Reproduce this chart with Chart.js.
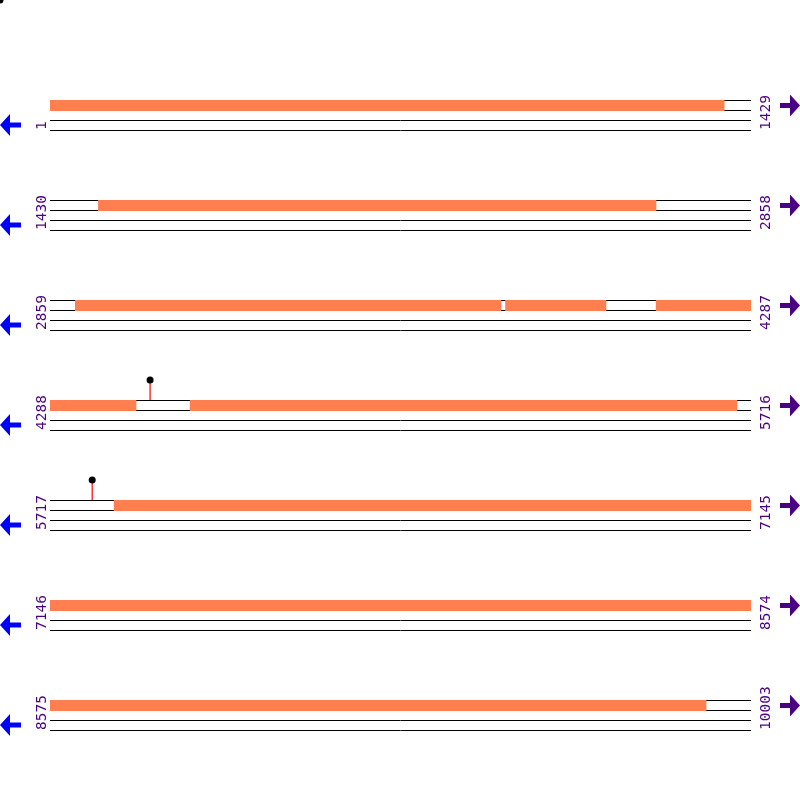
<!DOCTYPE html>
<html>
<head>
<meta charset="utf-8">
<script src="https://cdn.jsdelivr.net/npm/chart.js@4"></script>
<style>
  html, body { margin: 0; padding: 0; background: #fff; }
  #wrap { width: 800px; height: 800px; }
</style>
</head>
<body>
<div id="wrap"><canvas id="map" width="800" height="800"></canvas></div>
<script>
// sequence is wrapped into rows of equal length
const ROW_LEN = 1429;
const rowStarts = [1, 1430, 2859, 4288, 5717, 7146, 8575];
const rowEnds = [1429, 2858, 4287, 5716, 7145, 8574, 10003];

// features (genome coordinates, drawn in orange on the top strand)
const featureStarts = [1, 1528, 2910, 3787, 4094, 4573, 5847];
const featureEnds = [1375, 2665, 3778, 3992, 4463, 5688, 9912];

// single-site markers (lollipops)
const markerPositions = [4492, 5803];

// layout in pixels (y scale is in pixel rows)
const ROW_TOP = 100, ROW_GAP = 100;
const STRAND_OFFSETS = [0.5, 10.5, 20.5, 30.5];
const LEFT_PX = 50, RIGHT_PX = 751;

const ORANGE = '#FF7F50';
const INDIGO = '#4B0082';
const BLUE = '#0000FF';

const pxPerBp = (RIGHT_PX - LEFT_PX) / ROW_LEN;
const xMin = -LEFT_PX / pxPerBp;
const xMax = (800 - LEFT_PX) / pxPerBp;

function rowOf(pos) {
    return rowStarts.findIndex((s, i) => pos >= s && pos <= rowEnds[i]);
}

const datasets = [];

// strand lines
rowStarts.forEach((s, i) => {
    STRAND_OFFSETS.forEach(off => {
        const y = ROW_TOP + i * ROW_GAP + off;
        datasets.push({
            data: [{ x: 0, y: y }, { x: ROW_LEN, y: y }],
            borderColor: '#000', borderWidth: 1, pointRadius: 0, borderCapStyle: 'butt',
            order: 3
        });
    });
});

// features, split across rows
featureStarts.forEach((fs, k) => {
    const fe = featureEnds[k];
    for (let r = rowOf(fs); r <= rowOf(fe); r++) {
        const a = Math.max(fs, rowStarts[r]) - rowStarts[r];
        const b = Math.min(fe, rowEnds[r]) - rowStarts[r] + 1;
        const y = ROW_TOP + r * ROW_GAP + 5.5;
        datasets.push({
            data: [{ x: a, y: y }, { x: b, y: y }],
            borderColor: ORANGE, borderWidth: 11, pointRadius: 0, borderCapStyle: 'butt',
            order: 2
        });
    }
});

// lollipop markers
markerPositions.forEach(pos => {
    const r = rowOf(pos);
    const x = pos - rowStarts[r];
    const yBase = ROW_TOP + r * ROW_GAP;
    datasets.push({
        data: [{ x: x, y: yBase }, { x: x, y: yBase - 20 }],
        borderColor: '#FF0000', borderWidth: 1.2,
        pointRadius: [0, 3.5], pointBackgroundColor: '#000', pointBorderWidth: 0,
        order: 1
    });
});

// stray marker in the top-left corner of the original
datasets.push({
    data: [{ x: xMin, y: 0 }],
    showLine: false, pointRadius: 3.5, pointBackgroundColor: '#000', pointBorderWidth: 0,
    order: 1
});

// row labels and strand arrows
const rowDecor = {
    id: 'rowDecor',
    afterDatasetsDraw(chart) {
        const ctx = chart.ctx;
        const xs = chart.scales.x, ys = chart.scales.y;
        const xL = xs.getPixelForValue(0);
        const xR = xs.getPixelForValue(ROW_LEN);
        ctx.save();
        rowStarts.forEach((s, i) => {
            const top = ys.getPixelForValue(ROW_TOP + i * ROW_GAP);
            // left arrow (reverse strand)
            const cyL = top + 25;
            const x0 = xL - 50;
            ctx.fillStyle = BLUE;
            ctx.beginPath();
            ctx.moveTo(x0, cyL);
            ctx.lineTo(x0 + 10, cyL - 11);
            ctx.lineTo(x0 + 10, cyL - 2.5);
            ctx.lineTo(x0 + 21, cyL - 2.5);
            ctx.lineTo(x0 + 21, cyL + 2.5);
            ctx.lineTo(x0 + 10, cyL + 2.5);
            ctx.lineTo(x0 + 10, cyL + 11);
            ctx.closePath();
            ctx.fill();
            // right arrow (forward strand)
            const cyR = top + 5.5;
            const x1 = xR + 49;
            ctx.fillStyle = INDIGO;
            ctx.beginPath();
            ctx.moveTo(x1, cyR);
            ctx.lineTo(x1 - 10, cyR - 11);
            ctx.lineTo(x1 - 10, cyR - 2.5);
            ctx.lineTo(x1 - 20, cyR - 2.5);
            ctx.lineTo(x1 - 20, cyR + 2.5);
            ctx.lineTo(x1 - 10, cyR + 2.5);
            ctx.lineTo(x1 - 10, cyR + 11);
            ctx.closePath();
            ctx.fill();
            // position labels
            ctx.font = '14.5px "DejaVu Sans Mono", monospace';
            ctx.textAlign = 'left';
            ctx.textBaseline = 'alphabetic';
            [[xL - 4, String(s)], [xR + 19, String(rowEnds[i])]].forEach(([tx, txt]) => {
                ctx.save();
                ctx.translate(tx, top + 30);
                ctx.rotate(-Math.PI / 2);
                ctx.fillText(txt, 0, 0);
                ctx.restore();
            });
        });
        ctx.restore();
    }
};

new Chart(document.getElementById('map'), {
    type: 'line',
    data: { datasets: datasets },
    options: {
        responsive: false,
        animation: false,
        layout: { padding: 0, autoPadding: false },
        plugins: { legend: { display: false }, tooltip: { enabled: false } },
        scales: {
            x: { type: 'linear', min: xMin, max: xMax, display: false },
            y: { type: 'linear', min: 0, max: 800, reverse: true, display: false }
        }
    },
    plugins: [rowDecor]
});
</script>
</body>
</html>
